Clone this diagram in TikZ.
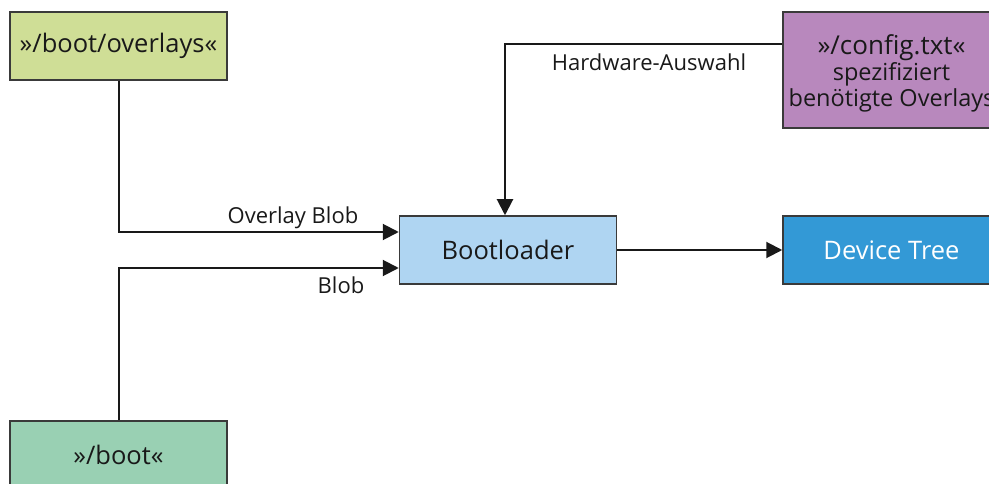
\documentclass[tikz,border=0pt]{standalone}
\usepackage{fontspec}
\setmainfont{Open Sans}
\usetikzlibrary{arrows.meta}
\definecolor{cOverlays}{HTML}{CFDE96}
\definecolor{cConfig}{HTML}{B888BD}
\definecolor{cBoot}{HTML}{AFD5F2}
\definecolor{cTree}{HTML}{3399D6}
\definecolor{cRoot}{HTML}{99D0B3}
\definecolor{cEdge}{HTML}{3A3A3A}
\tikzset{
  box/.style={draw=cEdge, line width=1.5pt, minimum width=217pt, minimum height=68pt,
    inner sep=0pt, align=center, font=\fontsize{25.5}{28}\selectfont, text=black!90},
  conn/.style={line width=2pt, draw=black!90, -{Triangle[length=16pt,width=16pt]}},
  lbl/.style={font=\fontsize{22}{24}\selectfont, text=black!90, inner sep=0pt, anchor=base}
}
\begin{document}
\begin{tikzpicture}[x=1pt,y=-1pt]
\useasboundingbox (0,0) rectangle (989,484);
\node[box, fill=cOverlays] (ov) at (118.5,46) {»/boot/overlays«};
\node[box, fill=cConfig, minimum height=116pt] (cfg) at (891.5,70) {};
% three text lines of the config box; the base anchor sits on the last line
\node[align=center, inner sep=0pt, text=black!90, anchor=base, font=\fontsize{23.5}{26}\selectfont] (cfgtxt) at (891.5,107)
  {{\fontsize{26}{27}\selectfont »/config.txt«}\\spezifiziert\\benötigte Overlays};
\node[box, fill=cBoot] (bl) at (508,250) {Bootloader};
\node[box, fill=cTree, text=white] (dt) at (891.5,250) {Device Tree};
\node[box, fill=cRoot] (rt) at (118.5,455) {»/boot«};

\coordinate (ovc) at (119,232);
\coordinate (rtc) at (119,268);
\coordinate (hwc) at (505,44);

\draw[conn] (ov.south -| ovc) |- (ovc -| bl.west);
\draw[conn] (rt.north -| rtc) |- (rtc -| bl.west);
\draw[conn] (hwc -| cfg.west) -- (hwc) -- (hwc |- bl.north);
\draw[conn] (bl.east) -- (dt.west);

\node[lbl] (lov) at (293,224) {Overlay Blob};
\node[lbl] (lblob) at (341,293) {Blob};
\node[lbl] (lhw) at (649,71) {Hardware-Auswahl};
\end{tikzpicture}
\end{document}
